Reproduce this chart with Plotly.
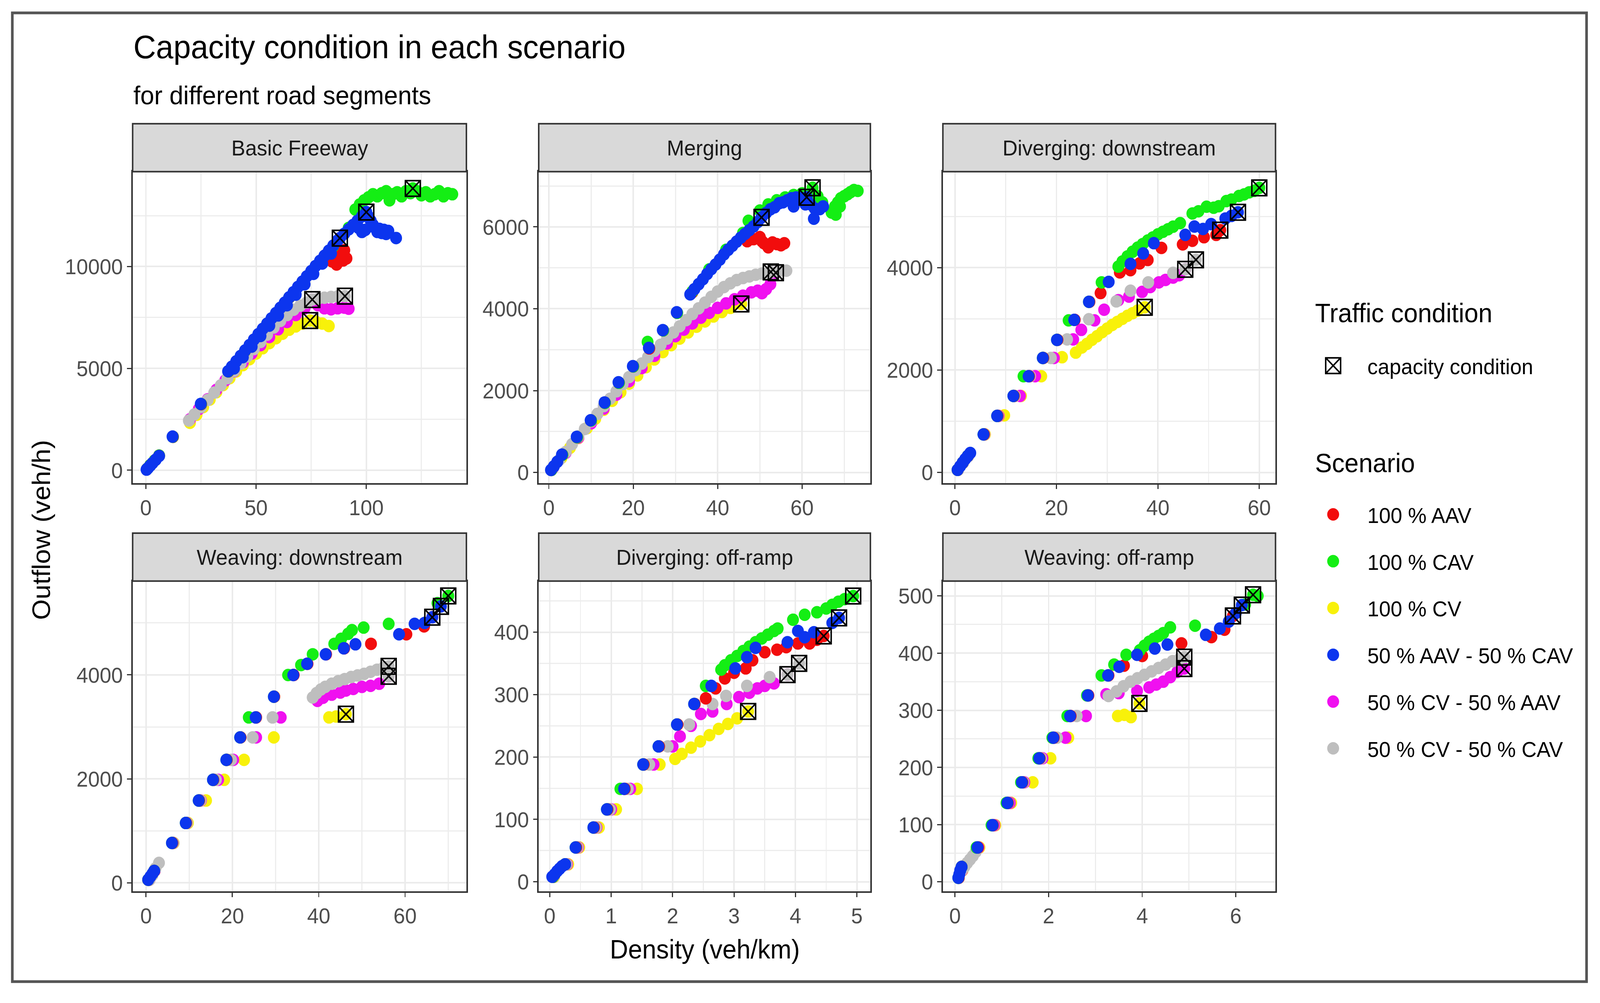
import plotly.graph_objects as go

# ---------------- categories ----------------
PANELS = ["Basic Freeway", "Merging", "Diverging: downstream",
          "Weaving: downstream", "Diverging: off-ramp", "Weaving: off-ramp"]
SCENARIOS = ["100 % AAV", "100 % CAV", "100 % CV",
             "50 % AAV - 50 % CAV", "50 % CV - 50 % AAV", "50 % CV - 50 % CAV"]

# ---------------- Basic Freeway ----------------
bf_aav_x = [0.5, 2, 4, 6, 12.3, 25.1, 37.5, 45, 55, 65, 75, 82, 84.5, 86, 86.5, 87, 88, 88.5, 89.5, 90, 91]
bf_aav_y = [60, 250, 480, 720, 1640, 3240, 4850, 5860, 7180, 8470, 9740, 10600, 10250, 10600, 10100, 10900, 11395, 10550, 10300, 10800, 10400]
bf_cav_x = [0.5, 2, 4, 6, 12.2, 25, 37.4, 45, 55, 65, 75, 85, 92, 95, 97, 99, 101, 103, 105, 107, 109, 110.5, 112, 114, 116, 118, 120, 121.1, 123, 125, 127, 129, 131, 133, 135, 137, 139]
bf_cav_y = [60, 250, 480, 720, 1645, 3250, 4855, 5870, 7190, 8480, 9760, 11000, 11900, 12800, 13050, 13250, 13400, 13550, 13450, 13600, 13700, 13250, 13550, 13650, 13450, 13700, 13600, 13837, 13700, 13500, 13650, 13450, 13550, 13700, 13450, 13600, 13550]
bf_cv_x = [20, 23, 26, 29, 32, 35, 38, 41, 44, 47, 50, 53, 56, 59, 62, 65, 68, 71, 74.5, 77, 80, 83]
bf_cv_y = [2330, 2720, 3100, 3470, 3830, 4180, 4520, 4850, 5160, 5450, 5730, 5990, 6240, 6480, 6700, 6900, 7060, 7200, 7350, 7300, 7200, 7080]
bf_ac_x = [0.3, 1, 2, 3, 4.5, 6, 12.1, 24.9, 37.3, 39, 41, 43, 45, 47, 49, 51, 53, 55, 57, 59, 61, 63, 65, 67, 69, 71, 73, 75, 77, 79, 81, 83, 85, 87, 88, 90, 92, 94, 96, 98, 100, 101, 102, 103, 104, 105, 106, 107, 108, 109, 110, 96.5, 98, 99.5, 113.5,
           40, 44, 48, 52, 56, 60, 64, 68, 72, 76, 80, 84]
bf_ac_y = [30, 110, 230, 350, 520, 700, 1651, 3256, 4860, 5085, 5350, 5615, 5880, 6145, 6415, 6680, 6940, 7200, 7460, 7715, 7975, 8230, 8490, 8745, 9000, 9260, 9520, 9780, 10030, 10280, 10530, 10780, 11030, 11280, 11395, 11610, 11825, 12040, 12250, 12460, 12674, 12450, 12250, 12050, 11900, 11700, 11850, 11650, 11800, 11600, 11750, 11900, 11700, 11800, 11400,
           5000, 5550, 6070, 6590, 7100, 7600, 8100, 8620, 9130, 9640, 10150, 10640]
bf_va_x = [20, 24, 28, 32, 36, 40, 44, 48, 52, 56, 60, 64, 68, 72, 75.5, 78, 81, 84, 87, 90, 92]
bf_va_y = [2500, 3000, 3480, 3950, 4410, 4860, 5300, 5730, 6140, 6540, 6920, 7280, 7620, 7950, 8380, 8100, 7950, 7900, 7950, 7980, 7930]
bf_vc_x = [19.5, 22, 25, 28, 31, 34, 37, 40, 43, 46, 49, 52, 55, 58, 61, 64, 67, 70, 73, 75.5, 78, 81, 84, 87, 90.3]
bf_vc_y = [2440, 2740, 3100, 3450, 3810, 4170, 4520, 4880, 5240, 5590, 5950, 6300, 6660, 7010, 7330, 7620, 7880, 8080, 8230, 8380, 8420, 8470, 8510, 8530, 8547]
bf_cap_x = [121.1, 100, 88, 75.5, 90.3, 74.5]
bf_cap_y = [13837, 12674, 11395, 8380, 8547, 7350]

# ---------------- Merging ----------------
mg_aav_x = [0.6, 3.2, 6.7, 10, 13.3, 16.6, 20, 23.8, 27.1, 30.4, 34, 38, 42, 46, 48, 50.4, 47, 48.5, 50, 51, 52, 53, 54, 55, 55.8, 50.5]
mg_aav_y = [60, 430, 860, 1270, 1700, 2190, 2590, 3030, 3470, 3900, 4400, 4950, 5420, 5800, 6000, 6232, 5650, 5700, 5750, 5600, 5500, 5620, 5580, 5550, 5600, 5650]
mg_cav_x = [0.6, 3.2, 6.7, 10, 13.3, 16.6, 20, 23.4, 27.1, 30.4, 34, 38, 42, 46, 47.3, 50, 52, 54, 56, 58, 60, 62.5, 63.7, 64.8, 67, 67.8, 68.5, 69.2, 70, 70.8, 71.5, 72.3, 73.2, 68, 69]
mg_cav_y = [60, 430, 860, 1270, 1700, 2190, 2590, 3188, 3470, 3900, 4420, 4960, 5440, 5850, 6150, 6400, 6550, 6650, 6720, 6780, 6820, 6957, 6750, 6600, 6350, 6500, 6600, 6700, 6750, 6800, 6850, 6900, 6880, 6300, 6500]
mg_cv_x = [1, 3, 5, 7, 9, 11, 13, 15, 17, 19, 21, 23, 25, 27, 29, 31, 33, 35, 37, 39, 41, 43, 45.6]
mg_cv_y = [120, 360, 600, 840, 1080, 1310, 1530, 1750, 1960, 2170, 2370, 2570, 2760, 2940, 3110, 3270, 3420, 3560, 3690, 3810, 3920, 4020, 4116]
mg_ac_x = [0.5, 1.2, 2, 3.1, 6.6, 9.9, 13.2, 16.5, 19.9, 23.7, 27.0, 30.3, 33.5, 34.5, 35.5, 36.5, 37.5, 38.5, 39.5, 40.5, 41.5, 42.5, 43.5, 44.5, 45.5, 46.5, 47.5, 48.5, 49.5, 50.4, 51.5, 52.5, 53.5, 54.6, 55.5, 56.5, 57.5, 58.6, 59.5, 60.5, 61.1, 62, 63, 62.8, 64.2, 60.8, 58, 65]
mg_ac_y = [60, 150, 260, 435, 870, 1275, 1710, 2203, 2597, 3043, 3478, 3913, 4350, 4480, 4600, 4720, 4850, 4970, 5080, 5200, 5330, 5440, 5540, 5640, 5740, 5830, 5920, 6010, 6120, 6232, 6340, 6430, 6480, 6580, 6600, 6650, 6700, 6720, 6700, 6650, 6725, 6550, 6450, 6200, 6435, 6551, 6500, 6500]
mg_va_x = [1, 4, 7, 10, 13, 16, 19, 22, 25, 28, 30, 32, 34, 36, 38, 40, 42, 44, 46, 48, 49.5, 50.5, 51.5, 52.5, 53.8]
mg_va_y = [110, 480, 850, 1200, 1560, 1900, 2230, 2550, 2850, 3150, 3330, 3490, 3640, 3780, 3900, 4020, 4130, 4230, 4320, 4400, 4440, 4380, 4480, 4600, 4880]
mg_vc_x = [1, 2.5, 4, 5.5, 7, 8.5, 10, 11.5, 13, 14.5, 16, 17.5, 19, 20.5, 22, 23.5, 25, 26.5, 28, 29.5, 31, 32.5, 34, 35.5, 37, 38.5, 40, 41.5, 43, 44.5, 46, 47.5, 49, 50.5, 52, 52.6, 54.5, 56.3]
mg_vc_y = [120, 310, 500, 690, 880, 1060, 1250, 1430, 1620, 1800, 1980, 2160, 2330, 2500, 2660, 2820, 2970, 3120, 3270, 3420, 3570, 3720, 3870, 4010, 4150, 4290, 4420, 4530, 4620, 4700, 4750, 4790, 4830, 4860, 4880, 4900, 4920, 4930]
mg_cap_x = [62.5, 61.1, 50.4, 52.6, 53.8, 45.6]
mg_cap_y = [6957, 6725, 6232, 4900, 4880, 4116]

# ---------------- Diverging: downstream ----------------
dd_aav_x = [0.5, 1.5, 2.5, 5.7, 8.4, 11.6, 14.6, 17.4, 20.2, 23.6, 26.5, 28.7, 32.5, 34.6, 36.4, 38, 40.7, 44.9, 46.8, 49.1, 51.5, 52.3]
dd_aav_y = [50, 190, 320, 742, 1104, 1494, 1879, 2236, 2589, 2979, 3332, 3503, 3907, 3950, 4083, 4150, 4385, 4454, 4524, 4594, 4640, 4733]
dd_cav_x = [0.5, 1.5, 2.5, 5.6, 8.3, 11.5, 13.5, 17.3, 20.1, 22.4, 26.4, 28.9, 32.2, 33, 34, 35, 36, 37, 38, 39, 40, 41, 42, 43, 44.4, 46.8, 48, 49.6, 51, 52, 53.5, 54.5, 56, 57, 58, 59, 60]
dd_cav_y = [50, 190, 320, 742, 1104, 1494, 1879, 2236, 2589, 2970, 3332, 3712, 4020, 4120, 4220, 4310, 4390, 4460, 4530, 4590, 4650, 4700, 4750, 4800, 4870, 5058, 5100, 5190, 5170, 5200, 5300, 5330, 5400, 5430, 5470, 5500, 5559]
dd_cv_x = [0.6, 1.6, 2.6, 5.9, 9.7, 13, 17, 21.1, 23.8, 25, 26, 27, 28, 29, 30, 31, 32, 33, 34, 35, 36, 37.4]
dd_cv_y = [50, 190, 320, 742, 1114, 1494, 1879, 2250, 2340, 2440, 2510, 2590, 2660, 2740, 2810, 2880, 2940, 3000, 3060, 3110, 3160, 3225]
dd_ac_x = [0.5, 1, 1.5, 2, 2.5, 3, 5.6, 8.3, 11.5, 14.5, 17.3, 20.1, 23.5, 26.4, 30.3, 34.6, 37.1, 39.2, 45.4, 47.2, 48.9, 50.5, 53.3, 54.5, 55.8]
dd_ac_y = [50, 120, 190, 260, 320, 380, 742, 1104, 1494, 1879, 2236, 2589, 2979, 3332, 3721, 4074, 4278, 4478, 4640, 4802, 4756, 4850, 4960, 5010, 5081]
dd_va_x = [0.6, 1.6, 2.6, 5.8, 8.6, 12.8, 15.8, 19.5, 23.3, 24.9, 27.5, 29.4, 32.2, 34.3, 36.9, 38.5, 40.2, 41.5, 43, 44.2, 45.4]
dd_va_y = [50, 190, 320, 742, 1104, 1494, 1879, 2236, 2598, 2784, 2970, 3178, 3364, 3434, 3526, 3620, 3712, 3760, 3805, 3851, 3967]
dd_vc_x = [0.6, 1.6, 2.6, 5.8, 8.5, 11.8, 14.8, 18.9, 22.1, 26.4, 31.8, 34.6, 38.1, 43, 45.4, 47.5]
dd_vc_y = [50, 190, 320, 742, 1104, 1494, 1879, 2236, 2598, 2993, 3341, 3550, 3712, 3898, 3967, 4153]
dd_cap_x = [60, 55.8, 52.3, 47.5, 45.4, 37.4]
dd_cap_y = [5559, 5081, 4733, 4153, 3967, 3225]

# ---------------- Weaving: downstream ----------------
wd_aav_x = [0.5, 1.9, 6.1, 9.3, 12.3, 15.6, 18.7, 21.9, 25.5, 29.7, 34.2, 37.4, 41.7, 45.9, 52.1, 60.3, 64.4, 66.3]
wd_aav_y = [60, 230, 768, 1152, 1584, 1982, 2366, 2798, 3182, 3581, 3998, 4214, 4397, 4512, 4598, 4781, 4934, 5110]
wd_cav_x = [0.5, 1.9, 6, 9.2, 12.2, 15.5, 18.6, 21.8, 23.8, 29.6, 32.9, 35.9, 38.6, 43.6, 45.2, 46.8, 47.7, 50.4, 56.2, 67.5, 70]
wd_cav_y = [60, 230, 768, 1152, 1584, 1982, 2366, 2798, 3182, 3581, 3998, 4190, 4397, 4598, 4694, 4790, 4862, 4910, 4982, 5380, 5520]
wd_cv_x = [0.8, 2, 6.4, 9.7, 13.9, 18.1, 22.7, 29.6, 42.4, 44, 46.3]
wd_cv_y = [60, 230, 768, 1152, 1584, 1982, 2366, 2798, 3182, 3200, 3245]
wd_ac_x = [0.5, 1, 1.5, 1.9, 6, 9.2, 12.2, 15.5, 18.6, 21.8, 25.4, 29.6, 34.1, 37.3, 41.6, 45.8, 48.5, 58.6, 62.2, 64.5, 66.3, 68.3]
wd_ac_y = [60, 120, 180, 230, 768, 1152, 1584, 1982, 2366, 2798, 3182, 3581, 3998, 4214, 4397, 4512, 4589, 4781, 4982, 5000, 5110, 5318]
wd_va_x = [0.8, 2, 6.3, 9.5, 12.7, 16.7, 20.2, 25.5, 31.2, 39.7, 41, 43, 45, 46.3, 48, 50, 52, 54, 56.2]
wd_va_y = [60, 230, 768, 1152, 1584, 1982, 2366, 2798, 3182, 3500, 3560, 3620, 3660, 3700, 3730, 3770, 3790, 3830, 3974]
wd_vc_x = [0.8, 1.5, 2.2, 3, 6.3, 9.5, 12.6, 16.2, 19.7, 24.7, 29.3, 38.6, 39.5, 40.5, 41.5, 43, 44.5, 46, 47.5, 49, 50.5, 52, 53.5, 55, 56.2, 56.2]
wd_vc_y = [60, 150, 280, 384, 768, 1152, 1584, 1982, 2366, 2798, 3182, 3566, 3650, 3720, 3770, 3830, 3880, 3920, 3960, 3990, 4020, 4060, 4100, 4140, 4166, 3974]
wd_cap_x = [70, 68.3, 66.3, 56.2, 56.2, 46.3]
wd_cap_y = [5520, 5318, 5110, 4166, 3974, 3245]

# ---------------- Diverging: off-ramp ----------------
do_aav_x = [0.05, 0.25, 0.43, 0.72, 0.94, 1.22, 1.53, 1.78, 2.08, 2.36, 2.54, 2.7, 2.85, 3.0, 3.19, 3.3, 3.5, 3.7, 3.85, 4.04, 4.23, 4.35, 4.46]
do_aav_y = [8, 28, 55, 87, 116, 149, 188, 217, 252, 285, 294, 310, 326, 335, 342, 355, 368, 372, 376, 382, 382, 388, 394]
do_cav_x = [0.05, 0.25, 0.42, 0.71, 0.93, 1.15, 1.52, 1.77, 2.07, 2.35, 2.54, 2.79, 2.85, 2.95, 3.05, 3.15, 3.25, 3.35, 3.45, 3.55, 3.65, 3.71, 3.96, 4.15, 4.35, 4.5, 4.6, 4.7, 4.8, 4.94]
do_cav_y = [8, 28, 55, 87, 116, 149, 188, 217, 252, 285, 314, 340, 347, 355, 362, 370, 377, 384, 390, 396, 402, 406, 420, 428, 432, 438, 444, 449, 453, 458]
do_cv_x = [0.07, 0.3, 0.48, 0.8, 1.08, 1.42, 1.79, 2.04, 2.15, 2.3, 2.45, 2.6, 2.75, 2.9, 3.05, 3.23]
do_cv_y = [8, 28, 55, 87, 116, 149, 188, 197, 205, 215, 225, 235, 245, 253, 262, 273]
do_ac_x = [0.04, 0.08, 0.12, 0.16, 0.2, 0.25, 0.42, 0.71, 0.93, 1.21, 1.52, 1.77, 2.07, 2.35, 2.63, 3.02, 3.21, 3.35, 3.87, 4.04, 4.15, 4.3, 4.6, 4.71]
do_ac_y = [8, 12, 17, 21, 25, 28, 55, 87, 116, 149, 188, 217, 252, 285, 314, 342, 360, 375, 384, 402, 392, 400, 415, 423]
do_va_x = [0.06, 0.28, 0.46, 0.76, 1.0, 1.31, 1.69, 2.0, 2.12, 2.3, 2.46, 2.65, 2.88, 3.08, 3.25, 3.38, 3.5, 3.65, 3.87]
do_va_y = [8, 28, 55, 87, 116, 149, 188, 217, 233, 250, 269, 273, 285, 296, 303, 310, 314, 318, 332]
do_vc_x = [0.06, 0.27, 0.45, 0.75, 0.98, 1.27, 1.62, 1.92, 2.27, 2.65, 2.87, 3.21, 3.58, 3.87, 4.06]
do_vc_y = [8, 28, 55, 87, 116, 149, 188, 217, 252, 285, 298, 314, 328, 332, 350]
do_cap_x = [4.94, 4.71, 4.46, 4.06, 3.87, 3.23]
do_cap_y = [458, 423, 394, 350, 332, 273]

# ---------------- Weaving: off-ramp ----------------
wo_aav_x = [0.08, 0.14, 0.49, 0.81, 1.13, 1.44, 1.81, 2.11, 2.47, 2.85, 3.28, 3.61, 4.0, 4.84, 5.48, 5.76, 5.94]
wo_aav_y = [7, 26, 60, 99, 138, 174, 216, 252, 290, 326, 361, 378, 395, 417, 428, 441, 465]
wo_cav_x = [0.07, 0.14, 0.46, 0.78, 1.1, 1.41, 1.78, 2.08, 2.4, 2.82, 3.13, 3.4, 3.66, 3.95, 4.05, 4.15, 4.25, 4.35, 4.45, 4.6, 5.13, 6.2, 6.37, 6.47]
wo_cav_y = [7, 26, 60, 99, 138, 174, 216, 252, 290, 326, 361, 380, 397, 405, 413, 420, 425, 430, 435, 445, 448, 485, 502, 500]
wo_cv_x = [0.16, 0.52, 0.86, 1.2, 1.66, 2.04, 2.42, 3.48, 3.62, 3.76, 3.94]
wo_cv_y = [20, 60, 99, 138, 174, 216, 252, 290, 292, 288, 312]
wo_ac_x = [0.07, 0.09, 0.11, 0.14, 0.48, 0.8, 1.12, 1.43, 1.8, 2.1, 2.46, 2.84, 3.27, 3.51, 3.89, 4.27, 4.54, 5.36, 5.66, 5.85, 6.0, 6.13]
wo_ac_y = [7, 13, 20, 26, 60, 99, 138, 174, 216, 252, 290, 326, 361, 376, 397, 408, 415, 432, 443, 455, 470, 484]
wo_va_x = [0.15, 0.5, 0.84, 1.17, 1.48, 1.87, 2.36, 2.8, 3.23, 3.5, 3.89, 4.15, 4.3, 4.45, 4.6, 4.75, 4.9]
wo_va_y = [20, 60, 99, 138, 174, 216, 252, 290, 328, 330, 334, 340, 345, 350, 358, 367, 373]
wo_vc_x = [0.14, 0.2, 0.26, 0.32, 0.38, 0.44, 0.82, 1.14, 1.46, 1.84, 2.18, 2.6, 3.28, 3.45, 3.6, 3.75, 3.9, 4.05, 4.2, 4.35, 4.5, 4.65, 4.8, 4.9]
wo_vc_y = [20, 26, 33, 39, 45, 52, 99, 138, 174, 216, 252, 290, 325, 333, 342, 350, 356, 362, 368, 374, 380, 386, 390, 393]
wo_cap_x = [6.37, 6.13, 5.94, 4.9, 4.9, 3.94]
wo_cap_y = [502, 484, 465, 393, 373, 312]

# ---------------- assemble ----------------
DATA = {
    "Basic Freeway": {"100 % AAV": (bf_aav_x, bf_aav_y), "100 % CAV": (bf_cav_x, bf_cav_y), "100 % CV": (bf_cv_x, bf_cv_y),
                      "50 % AAV - 50 % CAV": (bf_ac_x, bf_ac_y), "50 % CV - 50 % AAV": (bf_va_x, bf_va_y), "50 % CV - 50 % CAV": (bf_vc_x, bf_vc_y)},
    "Merging": {"100 % AAV": (mg_aav_x, mg_aav_y), "100 % CAV": (mg_cav_x, mg_cav_y), "100 % CV": (mg_cv_x, mg_cv_y),
                "50 % AAV - 50 % CAV": (mg_ac_x, mg_ac_y), "50 % CV - 50 % AAV": (mg_va_x, mg_va_y), "50 % CV - 50 % CAV": (mg_vc_x, mg_vc_y)},
    "Diverging: downstream": {"100 % AAV": (dd_aav_x, dd_aav_y), "100 % CAV": (dd_cav_x, dd_cav_y), "100 % CV": (dd_cv_x, dd_cv_y),
                              "50 % AAV - 50 % CAV": (dd_ac_x, dd_ac_y), "50 % CV - 50 % AAV": (dd_va_x, dd_va_y), "50 % CV - 50 % CAV": (dd_vc_x, dd_vc_y)},
    "Weaving: downstream": {"100 % AAV": (wd_aav_x, wd_aav_y), "100 % CAV": (wd_cav_x, wd_cav_y), "100 % CV": (wd_cv_x, wd_cv_y),
                            "50 % AAV - 50 % CAV": (wd_ac_x, wd_ac_y), "50 % CV - 50 % AAV": (wd_va_x, wd_va_y), "50 % CV - 50 % CAV": (wd_vc_x, wd_vc_y)},
    "Diverging: off-ramp": {"100 % AAV": (do_aav_x, do_aav_y), "100 % CAV": (do_cav_x, do_cav_y), "100 % CV": (do_cv_x, do_cv_y),
                            "50 % AAV - 50 % CAV": (do_ac_x, do_ac_y), "50 % CV - 50 % AAV": (do_va_x, do_va_y), "50 % CV - 50 % CAV": (do_vc_x, do_vc_y)},
    "Weaving: off-ramp": {"100 % AAV": (wo_aav_x, wo_aav_y), "100 % CAV": (wo_cav_x, wo_cav_y), "100 % CV": (wo_cv_x, wo_cv_y),
                          "50 % AAV - 50 % CAV": (wo_ac_x, wo_ac_y), "50 % CV - 50 % AAV": (wo_va_x, wo_va_y), "50 % CV - 50 % CAV": (wo_vc_x, wo_vc_y)},
}
CAPS = {"Basic Freeway": (bf_cap_x, bf_cap_y), "Merging": (mg_cap_x, mg_cap_y),
        "Diverging: downstream": (dd_cap_x, dd_cap_y), "Weaving: downstream": (wd_cap_x, wd_cap_y),
        "Diverging: off-ramp": (do_cap_x, do_cap_y), "Weaving: off-ramp": (wo_cap_x, wo_cap_y)}

# ---------------- styles ----------------
COLORS = {"100 % AAV": "#F20D0D", "100 % CAV": "#14EE14", "100 % CV": "#F8F10A",
          "50 % AAV - 50 % CAV": "#0C35EE", "50 % CV - 50 % AAV": "#F010F0", "50 % CV - 50 % CAV": "#BEBEBE"}
DRAW_ORDER = ["100 % CV", "50 % CV - 50 % AAV", "50 % CV - 50 % CAV", "100 % AAV", "100 % CAV", "50 % AAV - 50 % CAV"]
FONT = "Liberation Sans, Arial, sans-serif"
W, H = 4295, 2568

COLS = [(0.0829, 0.2915), (0.3367, 0.5440), (0.5893, 0.7972)]
ROWS = [(0.5165, 0.8282), (0.1078, 0.4184)]
STRIP_H = 0.048
AXES = [  # (x range, x dtick, y range, y dtick)
    ([-6.0, 145.4], 50, [-630, 14660], 5000),
    ([-2.4, 76.2], 20, [-260, 7350], 2000),
    ([-2.4, 63.2], 20, [-208, 5875], 2000),
    ([-3.1, 74.2], 20, [-164, 5805], 2000),
    ([-0.18, 5.22], 1, [-15.4, 482], 100),
    ([-0.26, 6.85], 2, [-16.8, 526], 100),
]

fig = go.Figure()
layout = dict(width=W, height=H, paper_bgcolor="white", plot_bgcolor="white",
              margin=dict(l=0, r=0, t=0, b=0), font=dict(family=FONT, color="#000000"),
              shapes=[], annotations=[])

for i, panel in enumerate(PANELS):
    r, c = divmod(i, 3)
    xa = "x" if i == 0 else f"x{i+1}"
    ya = "y" if i == 0 else f"y{i+1}"
    for sc in DRAW_ORDER:
        xs, ys = DATA[panel][sc]
        fig.add_trace(go.Scatter(
            x=xs, y=ys, mode="markers", name=sc, legendgroup=sc, legend="legend2",
            legendrank=SCENARIOS.index(sc) + 1, showlegend=(i == 0),
            marker=dict(color=COLORS[sc], size=32, line=dict(width=0)),
            xaxis=xa, yaxis=ya, hoverinfo="skip"))
    cx, cy = CAPS[panel]
    fig.add_trace(go.Scatter(
        x=cx, y=cy, mode="markers", name="capacity condition", legendgroup="cap", legend="legend",
        showlegend=(i == 0),
        marker=dict(symbol="square-x-open", color="#000000", size=40, line=dict(width=4, color="#000000")),
        xaxis=xa, yaxis=ya, hoverinfo="skip"))

    xr, xdt, yr, ydt = AXES[i]
    common = dict(showgrid=True, gridcolor="#EBEBEB", gridwidth=4, zeroline=False,
                  showline=True, mirror=True, linecolor="#333333", linewidth=4,
                  ticks="outside", ticklen=11, tickwidth=3, tickcolor="#333333", tickformat="d",
                  tickfont=dict(size=56, color="#4D4D4D", family=FONT))
    xkey = "xaxis" if i == 0 else f"xaxis{i+1}"
    ykey = "yaxis" if i == 0 else f"yaxis{i+1}"
    layout[xkey] = dict(common, domain=list(COLS[c]), range=xr, dtick=xdt, tick0=0,
                        anchor=ya, minor=dict(dtick=xdt / 2, showgrid=True, gridcolor="#EDEDED", gridwidth=2.5))
    layout[ykey] = dict(common, domain=list(ROWS[r]), range=yr, dtick=ydt, tick0=0,
                        anchor=xa, minor=dict(dtick=ydt / 2, showgrid=True, gridcolor="#EDEDED", gridwidth=2.5))
    # strip
    x0, x1 = COLS[c]
    y0 = ROWS[r][1]
    layout["shapes"].append(dict(type="rect", xref="paper", yref="paper", x0=x0, x1=x1, y0=y0, y1=y0 + STRIP_H,
                                 fillcolor="#D9D9D9", line=dict(color="#333333", width=4), layer="above"))
    layout["annotations"].append(dict(text=panel, xref="paper", yref="paper", x=(x0 + x1) / 2, y=y0 + STRIP_H / 2,
                                      xanchor="center", yanchor="middle", showarrow=False,
                                      font=dict(size=56, color="#1A1A1A", family=FONT)))

# outer border
layout["shapes"].append(dict(type="rect", xref="paper", yref="paper", x0=0.0077, x1=0.9916, y0=0.0175, y1=0.9871,
                             line=dict(color="#555555", width=7), fillcolor="rgba(0,0,0,0)"))
# titles and legend headings
layout["annotations"] += [
    dict(text="Capacity condition in each scenario", xref="paper", yref="paper", x=0.0829, y=0.953,
         xanchor="left", yanchor="middle", showarrow=False, font=dict(size=84, color="#000000")),
    dict(text="for different road segments", xref="paper", yref="paper", x=0.0829, y=0.905,
         xanchor="left", yanchor="middle", showarrow=False, font=dict(size=67, color="#000000")),
    dict(text="Outflow (veh/h)", xref="paper", yref="paper", x=0.0255, y=0.4696, textangle=-90,
         xanchor="center", yanchor="middle", showarrow=False, font=dict(size=68, color="#000000")),
    dict(text="Density (veh/km)", xref="paper", yref="paper", x=0.4404, y=0.050,
         xanchor="center", yanchor="middle", showarrow=False, font=dict(size=68, color="#000000")),
    dict(text="Traffic condition", xref="paper", yref="paper", x=0.8214, y=0.687,
         xanchor="left", yanchor="middle", showarrow=False, font=dict(size=68, color="#000000")),
    dict(text="Scenario", xref="paper", yref="paper", x=0.8214, y=0.5368,
         xanchor="left", yanchor="middle", showarrow=False, font=dict(size=68, color="#000000")),
]
layout["legend"] = dict(x=0.8118, y=0.634, xanchor="left", yanchor="middle", bgcolor="rgba(0,0,0,0)",
                        font=dict(size=56, color="#000000"), itemwidth=174, tracegroupgap=0)
layout["legend2"] = dict(x=0.8118, y=0.368, xanchor="left", yanchor="middle", bgcolor="rgba(0,0,0,0)",
                         font=dict(size=56, color="#000000"), itemwidth=174, tracegroupgap=44)
fig.update_layout(**layout)

# stretch the fixed-size figure over the whole browser viewport; enlarge legend keys to the point size
FIT_JS = (
    "var gd=document.getElementById('{plot_id}');"
    "var iw=window.innerWidth, ih=window.innerHeight;"
    "var sx=iw/%d, sy=ih/%d;" % (W, H) +
    "document.documentElement.style.margin='0';document.body.style.margin='0';"
    "document.documentElement.style.overflow='hidden';document.body.style.overflow='hidden';"
    "document.body.style.width=iw+'px';document.body.style.height=ih+'px';"
    "gd.style.transformOrigin='0 0';gd.style.transform='scale('+sx+','+sy+')';"
    "gd.querySelectorAll('g.legendpoints path.scatterpts').forEach(function(p){"
    "  var d=p.getAttribute('d')||''; var t=p.getAttribute('transform')||'';"
    "  if(d.indexOf('A')>=0){p.setAttribute('transform',t+' scale(2)');}"
    "  else{p.setAttribute('transform',t+' scale(2.5)');p.style.strokeWidth='1.6px';}"
    "});"
)
fig.write_html("out.html", post_script=FIT_JS, config={"displayModeBar": False})
